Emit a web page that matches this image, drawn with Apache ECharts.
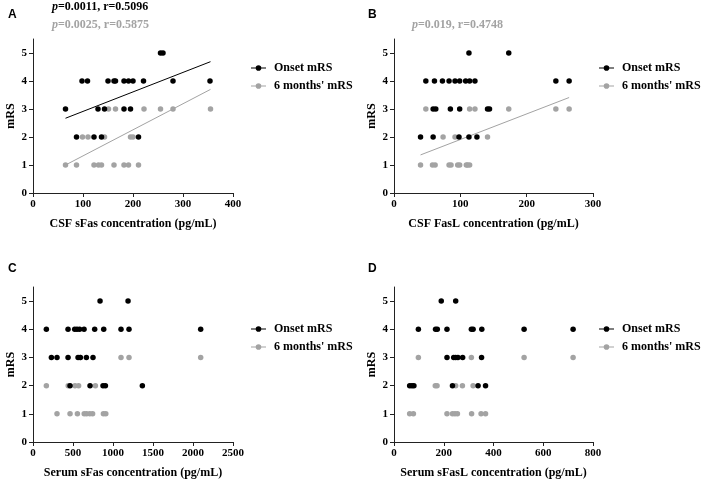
<!DOCTYPE html>
<html><head><meta charset="utf-8">
<script src="https://cdn.jsdelivr.net/npm/echarts@6/dist/echarts.min.js"></script>
<style>html,body{margin:0;padding:0;background:#fff}#c{width:712px;height:480px}</style>
</head><body><div id="c"></div>
<script>
// ---- data (x = concentration pg/mL, y = mRS) ----
const aOnset = [[255,5],[260,5],
  [98,4],[109,4],[150,4],[162,4],[165,4],[182,4],[191,4],[200,4],[221,4],[280,4],[354,4],
  [65,3],[130,3],[143,3],[182,3],[195,3],
  [87,2],[122,2],[137,2],[211,2]];
const aSix = [[151,3],[165,3],[222,3],[255,3],[280,3],[355,3],
  [99,2],[110,2],[143,2],[195,2],[200,2],
  [65,1],[87,1],[122,1],[131,1],[137,1],[162,1],[182,1],[191,1],[211,1]];
const aOnsetFit = [[65,2.67],[355,4.69]];
const aSixFit = [[65,1.0],[355,3.70]];

const bOnset = [[113,5],[173,5],
  [48,4],[61,4],[73,4],[83,4],[92,4],[99,4],[108,4],[114,4],[122,4],[244,4],[264,4],
  [59,3],[63,3],[85,3],[99,3],[141,3],[144,3],
  [40,2],[59,2],[98,2],[113,2],[125,2]];
const bSix = [[48,3],[114,3],[122,3],[173,3],[244,3],[264,3],
  [74,2],[92,2],[141,2],
  [40,1],[58,1],[62,1],[83,1],[86,1],[96,1],[99,1],[109,1],[111,1],[114,1]];
const bSixFit = [[40,1.36],[264,3.41]];

const cOnset = [[838,5],[1188,5],
  [167,4],[438,4],[521,4],[550,4],[583,4],[638,4],[771,4],[884,4],[1100,4],[1200,4],[2096,4],
  [230,3],[300,3],[438,3],[563,3],[592,3],[667,3],[750,3],
  [463,2],[713,2],[875,2],[905,2],[1367,2]];
const cSix = [[590,3],[1100,3],[1200,3],[2096,3],
  [167,2],[440,2],[525,2],[570,2],[780,2],
  [300,1],[463,1],[555,1],[640,1],[670,1],[710,1],[745,1],[880,1],[910,1]];

const dOnset = [[190,5],[248,5],
  [98,4],[167,4],[174,4],[213,4],[311,4],[318,4],[353,4],[523,4],[720,4],
  [213,3],[240,3],[248,3],[257,3],[276,3],[352,3],
  [63,2],[72,2],[80,2],[235,2],[338,2],[368,2]];
const dSix = [[98,3],[311,3],[523,3],[720,3],
  [166,2],[173,2],[248,2],[275,2],[318,2],
  [63,1],[78,1],[213,1],[235,1],[245,1],[255,1],[312,1],[350,1],[368,1]];

const xNames = ['CSF sFas concentration (pg/mL)','CSF FasL concentration (pg/mL)',
  'Serum sFas concentration (pg/mL)','Serum sFasL concentration (pg/mL)'];
const xMax = [400,300,2500,800];
const xInterval = [100,100,500,200];
const yTicks = [0,1,2,3,4,5];
const panelLetters = ['A','B','C','D'];
const statsA = ['p=0.0011, r=0.5096','p=0.0025, r=0.5875'];
const statsB = ['p=0.019, r=0.4748'];
const legendNames = ['Onset mRS',"6 months' mRS"];

// ---- styling ----
const SERIF = '"Liberation Serif","Times New Roman",serif';
const BLACK = '#000000', GRAY = '#a3a3a3', AXC = '#222222';
const grids = [
  {left:33, top:39, width:200, height:154},
  {left:394, top:39, width:199, height:154},
  {left:33, top:287, width:200, height:155},
  {left:394, top:287, width:199, height:155}
];
const tick = {fontFamily:SERIF, fontWeight:'bold', fontSize:11, color:'#000'};
const lab = {fontFamily:SERIF, fontWeight:'bold', fontSize:12, color:'#000'};

const xAxes = grids.map((g,i)=>({
  type:'value', gridIndex:i, min:0, max:xMax[i], interval:xInterval[i],
  name:xNames[i], nameLocation:'middle', nameGap:25, nameTextStyle:lab,
  axisLine:{show:true, onZero:false, lineStyle:{color:AXC,width:1}},
  axisTick:{show:true, length:4, lineStyle:{color:AXC}},
  axisLabel:Object.assign({margin:6, formatter:v=>String(v)}, tick),
  splitLine:{show:false}
}));
const yAxes = grids.map((g,i)=>({
  type:'value', gridIndex:i, min:0, max:5.5,
  name:'mRS', nameLocation:'middle', nameGap:16, nameRotate:90, nameTextStyle:lab,
  axisLine:{show:true, onZero:false, lineStyle:{color:AXC,width:1}},
  axisTick:{show:true, length:4, customValues:yTicks, lineStyle:{color:AXC}},
  axisLabel:Object.assign({margin:6, customValues:yTicks}, tick),
  splitLine:{show:false}
}));

function scat(name, data, color, i){
  return {type:'scatter', name, data, xAxisIndex:i, yAxisIndex:i, symbolSize:5.5,
    itemStyle:{color, opacity:1}, emphasis:{disabled:true}, z:3};
}
function fit(data, color, i){
  return {type:'line', name:'fit'+i+color, data, xAxisIndex:i, yAxisIndex:i, symbol:'none',
    lineStyle:{color, width:1}, z:2, silent:true};
}
const sets = [[aOnset,aSix],[bOnset,bSix],[cOnset,cSix],[dOnset,dSix]];
const series = [];
sets.forEach((s,i)=>{
  series.push(scat(legendNames[1], s[1], GRAY, i));
  series.push(scat(legendNames[0], s[0], BLACK, i));
});
series.push(fit(aOnsetFit, BLACK, 0));
series.push(fit(aSixFit, GRAY, 0));
series.push(fit(bSixFit, GRAY, 1));

const ICON = 'path://M0,4.5L16,4.5L16,5.5L0,5.5Z M11,5A3,3 0 1 1 5,5A3,3 0 1 1 11,5Z';
const legendPos = [[251,62],[599,62],[251,323],[599,323]];
const legends = legendPos.map(p=>({
  left:p[0], top:p[1], orient:'vertical', data:legendNames, icon:ICON,
  itemWidth:15, itemHeight:6, itemGap:6, padding:0, selectedMode:false,
  textStyle:Object.assign({padding:[0,0,0,3]}, lab)
}));

function statTitle(txt, left, top, color){
  const rest = txt.slice(1);
  return {text:'{i|p}{b|'+rest+'}', left, top, padding:0,
    textStyle:{rich:{
      i:{color, fontFamily:SERIF, fontWeight:'bold', fontStyle:'italic', fontSize:12},
      b:{color, fontFamily:SERIF, fontWeight:'bold', fontSize:12}}}};
}
const letterPos = [[8,9],[368,9],[8,263],[368,263]];
const titles = letterPos.map((p,i)=>({text:panelLetters[i], left:p[0], top:p[1], padding:0,
  textStyle:{fontFamily:'"Liberation Sans",Arial,sans-serif', fontWeight:'bold', fontSize:12, color:'#000'}}));
titles.push(statTitle(statsA[0], 52, 1, BLACK));
titles.push(statTitle(statsA[1], 52, 19, GRAY));
titles.push(statTitle(statsB[0], 412, 19, GRAY));

const chart = echarts.init(document.getElementById('c'), null, {renderer:'canvas'});
chart.setOption({
  animation:false, backgroundColor:'#fff',
  title:titles, legend:legends, grid:grids, xAxis:xAxes, yAxis:yAxes, series
});
</script></body></html>
